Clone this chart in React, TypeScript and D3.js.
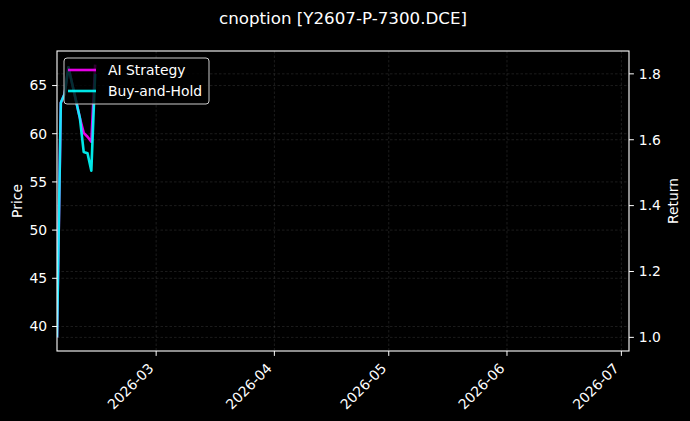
import React from "react";
import * as d3 from "d3";

// ---- data ----
const title = "cnoption [Y2607-P-7300.DCE]";
const dates = [
  "2026-02-03", "2026-02-04", "2026-02-05", "2026-02-06",
  "2026-02-09", "2026-02-10", "2026-02-11", "2026-02-12", "2026-02-13",
];
const aiStrategy = [1.0, 1.712, 1.739, 1.82, 1.666, 1.621, 1.609, 1.594, 1.828];
const buyAndHold = [1.0, 1.712, 1.739, 1.82, 1.666, 1.563, 1.559, 1.506, 1.8];
const priceLow = 38.87;
const priceHigh = 67.17;
const xStart = "2026-02-03";
const xEnd = "2026-07-03";
const priceTicks = [40, 45, 50, 55, 60, 65];
const returnTicks = [1.0, 1.2, 1.4, 1.6, 1.8];
const dateTicks = ["2026-03-01", "2026-04-01", "2026-05-01", "2026-06-01", "2026-07-01"];
const seriesNames = ["AI Strategy", "Buy-and-Hold"];
const seriesColors = ["#ff00ff", "#00ffff"];

const W = 690, H = 421;
const M = { left: 57, right: 629, top: 51, bottom: 351 };
const FONT = "DejaVu Sans, sans-serif";

function pad([a, b]: [number, number]): [number, number] {
  const m = (b - a) * 0.05;
  return [a - m, b + m];
}

export default function App() {
  const parse = d3.utcParse("%Y-%m-%d");
  const x = d3.scaleUtc().domain([parse(xStart)!, parse(xEnd)!]).range([M.left, M.right]);
  const yP = d3.scaleLinear().domain(pad([priceLow, priceHigh])).range([M.bottom, M.top]);
  const allRet = [...aiStrategy, ...buyAndHold];
  const yR = d3.scaleLinear()
    .domain(pad([d3.min(allRet)!, d3.max(allRet)!]))
    .range([M.bottom, M.top]);
  const fmtDate = d3.utcFormat("%Y-%m");

  const series = [aiStrategy, buyAndHold];
  const line = (vals: number[]) =>
    d3.line<number>()
      .x((_, i) => x(parse(dates[i])!))
      .y((v) => yR(v))(vals) || "";

  const gridStyle = { stroke: "#888", strokeOpacity: 0.38, strokeWidth: 0.55, strokeDasharray: "2.5,2" };
  const tickLen = 4.9;

  return (
    <svg width={W} height={H} style={{ position: "absolute", left: 0, top: 0, display: "block", background: "#000" }}
      fontFamily={FONT}>
      <rect x={0} y={0} width={W} height={H} fill="#000" />
      <defs>
        <clipPath id="plotclip">
          <rect x={M.left} y={M.top} width={M.right - M.left} height={M.bottom - M.top} />
        </clipPath>
      </defs>
      {/* grid */}
      {dateTicks.map((d) => (
        <line key={"gx" + d} x1={x(parse(d)!)} x2={x(parse(d)!)} y1={M.top} y2={M.bottom} {...gridStyle} />
      ))}
      {priceTicks.map((t) => (
        <line key={"gp" + t} x1={M.left} x2={M.right} y1={yP(t)} y2={yP(t)} {...gridStyle} />
      ))}
      {returnTicks.map((t) => (
        <line key={"gr" + t} x1={M.left} x2={M.right} y1={yR(t)} y2={yR(t)} {...gridStyle} />
      ))}
      {/* lines */}
      <g clipPath="url(#plotclip)">
        {series.map((s, i) => (
          <path key={i} d={line(s)} fill="none" stroke={seriesColors[i]} strokeOpacity={0.9}
            strokeWidth={2.6} strokeLinejoin="round" />
        ))}
      </g>
      {/* frame */}
      <rect x={M.left} y={M.top} width={M.right - M.left} height={M.bottom - M.top} fill="none" stroke="#fff" strokeWidth={1.1} />
      {/* left axis */}
      {priceTicks.map((t) => (
        <g key={"lp" + t}>
          <line x1={M.left - tickLen} x2={M.left} y1={yP(t)} y2={yP(t)} stroke="#fff" strokeWidth={1} />
          <text x={M.left - 9.8} y={yP(t)} dy="0.35em" textAnchor="end" fontSize={13.9} fill="#fff">{t}</text>
        </g>
      ))}
      {/* right axis */}
      {returnTicks.map((t) => (
        <g key={"rp" + t}>
          <line x1={M.right} x2={M.right + tickLen} y1={yR(t)} y2={yR(t)} stroke="#fff" strokeWidth={1} />
          <text x={M.right + 9.8} y={yR(t)} dy="0.35em" textAnchor="start" fontSize={13.9} fill="#fff">{t.toFixed(1)}</text>
        </g>
      ))}
      {/* x axis */}
      {dateTicks.map((d) => {
        const px = x(parse(d)!);
        const ax = px - 5, ay = M.bottom + 9.8 + 5;
        return (
          <g key={"xt" + d}>
            <line x1={px} x2={px} y1={M.bottom} y2={M.bottom + tickLen} stroke="#fff" strokeWidth={1} />
            <text x={ax} y={ay} dy="0.35em" textAnchor="end" fontSize={13.9} fill="#fff"
              transform={`rotate(-45 ${ax} ${ay})`}>{fmtDate(parse(d)!)}</text>
          </g>
        );
      })}
      {/* axis labels */}
      <text transform={`translate(17 ${(M.top + M.bottom) / 2}) rotate(-90)`} textAnchor="middle" dy="0.35em"
        fontSize={13.9} fill="#fff">Price</text>
      <text transform={`translate(673 ${(M.top + M.bottom) / 2}) rotate(-90)`} textAnchor="middle" dy="0.35em"
        fontSize={13.9} fill="#fff">Return</text>
      {/* title */}
      <text x={(M.left + M.right) / 2} y={18} dy="0.35em" textAnchor="middle" fontSize={16.7} fill="#fff">{title}</text>
      {/* legend */}
      <g>
        <rect x={64} y={58} width={145} height={46} rx={3} fill="#000" fillOpacity={0.8} stroke="#ccc" strokeWidth={1} />
        {seriesNames.map((n, i) => (
          <g key={n}>
            <line x1={68} x2={96} y1={70 + i * 21} y2={70 + i * 21} stroke={seriesColors[i]} strokeOpacity={0.9} strokeWidth={2.6} />
            <text x={108} y={70 + i * 21} dy="0.35em" fontSize={13.9} fill="#fff">{n}</text>
          </g>
        ))}
      </g>
    </svg>
  );
}
